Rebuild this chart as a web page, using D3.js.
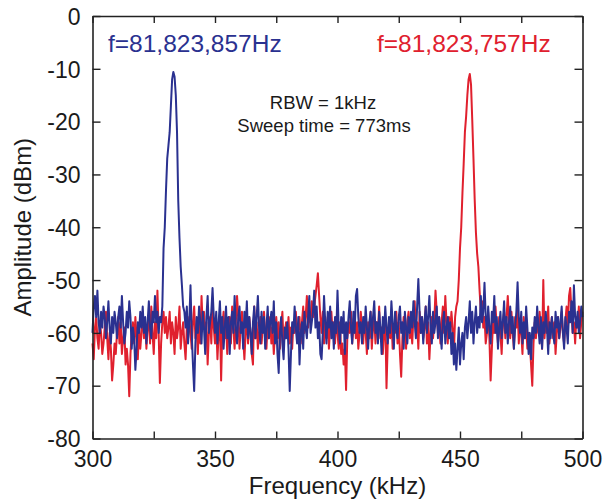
<!DOCTYPE html>
<html><head><meta charset="utf-8">
<script src="https://cdn.jsdelivr.net/npm/d3@7"></script>
<style>body{margin:0;background:#fff}svg{display:block}text{font-family:"Liberation Sans",Arial,sans-serif}</style>
</head><body>
<script>
// frequency grid: 300 .. 500 kHz, step 0.5 kHz
const freqStart = 300, freqStep = 0.5;
const blueLabel = "f=81,823,857Hz";
const redLabel = "f=81,823,757Hz";
const noteLines = ["RBW = 1kHz", "Sweep time = 773ms"];
const xTickLabels = [300, 350, 400, 450, 500];
const yTickLabels = [0, -10, -20, -30, -40, -50, -60, -70, -80];

const blueDbm = [
-60,-55,-53,-57,-52,-58,-60,-56,-59,-55,-57,-61,-58,-54,-59,-62,-57,-60,-56,-58,
-61,-57,-55,-59,-53,-58,-62,-60,-56,-59,-54,-57,-63,-59,-61,-67,-63,-58,-60,-56,
-59,-55,-60,-57,-62,-58,-54,-59,-61,-56,-58,-53,-58,-56,-60,-57,-58,-55,-44,-40,
-33,-27,-24.5,-22,-17,-12,-10.6,-11.5,-15,-22,-35,-42,-47.5,-51,-55,-56,-59,-55,-62,-58,
-51,-60,-66,-71,-62,-57,-60,-55,-58,-62,-56,-59,-64,-57,-53,-60,-58,-56,-51.5,-57,
-60,-56,-62,-58,-54,-60,-57,-63,-59,-55,-61,-57,-64,-58,-56,-60,-53,-59,-62,-57,
-55,-60,-58,-63,-56,-59,-54,-61,-57,-60,-64,-58,-55,-61,-57,-53,-59,-62,-56,-60,
-57,-63,-59,-55,-61,-58,-56,-60,-54,-62,-58,-64,-67.6,-60,-57,-62,-65,-59,-61,-58,
-63,-71,-64,-58,-60,-55,-59,-62,-57,-66,-60,-58,-63,-56,-59,-61,-57,-53,-60,-58,
-56,-52,-59,-55,-61,-58,-64,-65,-60,-53,-58,-62,-56,-59,-55,-61,-58,-63,-57,-60,
-52,-59,-62,-57,-60,-56,-64,-58,-61,-57,-54,-59,-62,-56,-60,-53,-51.7,-57,-60,-58,
-62,-57,-60,-55,-59,-63,-58,-56,-61,-57,-54,-60,-58,-62,-56,-59,-64,-57,-60,-55,
-59,-62,-57,-60,-54,-58,-63,-56,-59,-61,-57,-55,-60,-58,-63,-56,-59,-62,-57,-60,
-56,-59,-54,-58,-61,-55,-49.8,-56,-60,-57,-62,-58,-55,-60,-57,-53,-59,-62,-56,-60,
-58,-55,-61,-57,-60,-63,-58,-56,-62,-59,-57,-61,-58,-64,-60,-66,-62,-67,-63,-59,
-66,-62,-60,-65,-59,-57,-61,-58,-54,-60,-56,-62,-58,-55,-60,-57,-59,-53,-58,-56,
-50.5,-57,-60,-55,-59,-62,-56,-58,-53,-60,-57,-63,-59,-56,-61,-58,-54,-60,-57,-62,
-58,-55,-60,-57,-63,-59,-56,-50.4,-57,-60,-56,-62,-58,-61,-55,-59,-64,-60,-65,-59,
-61,-57,-60,-55,-59,-62,-57,-63,-58,-60,-56,-59,-64,-58,-61,-57,-60,-62,-56,-59,
-57,-61,-58,-55,-60,-63,-57,-59,-62,-56,-58,-54,-60,-51,-57,-59,-56,-60,-58,-55,-57
];

const redDbm = [
-62,-65,-59,-57,-61,-63,-58,-60,-64,-62,-59,-56,-61,-65,-60,-63,-69,-66,-62,-64,
-60,-57,-62,-58,-64,-61,-59,-66,-63,-66,-72,-64,-60,-58,-62,-57,-61,-65,-59,-63,
-60,-56,-61,-58,-63,-59,-57,-62,-55,-60,-64,-58,-61,-52,-60,-69.5,-62,-58,-56,-60,
-57,-61,-59,-56,-62,-58,-60,-64,-57,-61,-59,-55,-63,-60,-58,-62,-65,-59,-61,-57,
-60,-63,-58,-55,-61,-59,-64,-57,-62,-53,-59,-56,-61,-58,-66,-60,-57,-62,-54,-59,
-62,-58,-65,-60,-57,-69,-59,-56,-61,-58,-64,-60,-57,-62,-55,-59,-63,-58,-53,-57,
-63,-59,-56,-61,-65,-60,-58,-62,-57,-60,-64,-66,-55,-61,-58,-63,-60,-57,-62,-59,
-56,-60,-63,-58,-61,-57,-62,-59,-64,-60,-57,-61,-58,-63,-59,-56,-62,-60,-58,-61,
-57,-62,-59,-63,-58,-60,-56,-61,-59,-57,-62,-58,-55,-60,-57,-53,-59,-56,-58,-54,
-57,-55,-53,-51,-48.7,-53,-57,-60,-56,-62,-58,-61,-57,-63,-59,-56,-60,-58,-62,-57,
-60,-63,-58,-64,-62,-66,-63,-70.8,-61,-58,-60,-56,-62,-59,-57,-61,-58,-63,-60,-56,
-59,-62,-57,-60,-64,-58,-61,-56,-63,-59,-57,-62,-58,-60,-55,-61,-59,-64,-60,-57,
-70.5,-62,-58,-61,-57,-63,-59,-60,-56,-62,-58,-64,-68.3,-61,-57,-60,-63,-58,-56,-61,
-59,-62,-57,-54,-60,-58,-63,-56,-60,-57,-61,-59,-55,-62,-58,-65,-60,-57,-61,-58,
-52,-56,-60,-57,-62,-58,-55,-60,-53,-58,-62,-57,-60,-56,-59,-64,-57,-55,-54,-50,
-44,-40,-33.5,-28,-22,-19,-15,-12,-11,-13,-19.7,-27,-34.8,-41,-45,-47.5,-52,-56,-54,-59,
-57,-62,-60,-56,-61,-69,-63,-58,-60,-55,-59,-62,-57,-60,-64,-58,-56,-61,-57,-53,
-58,-61,-56,-60,-63,-57,-59,-55,-62,-58,-60,-64,-57,-61,-59,-63,-60,-62,-66,-70,
-62,-58,-61,-57,-60,-56,-59,-63,-50,-61,-57,-60,-55,-62,-59,-57,-61,-58,-64,-60,
-57,-61,-59,-56,-60,-62,-58,-55,-59,-53,-51.5,-56,-60,-58,-62,-57,-59,-55,-61,-58,-56
];

const W = 603, H = 502;
const margin = {left: 92.5, right: W - 582.5, top: 16, bottom: H - 438.5};
const svg = d3.select("body").append("svg").attr("width", W).attr("height", H);

const x = d3.scaleLinear().domain([300, 500]).range([margin.left, W - margin.right]);
const y = d3.scaleLinear().domain([-80, 0]).range([H - margin.bottom, margin.top]);

const toPts = arr => arr.map((v, i) => [freqStart + i * freqStep, v]);
const line = d3.line().x(d => x(d[0])).y(d => y(d[1]));

const plot = svg.append("g");
plot.append("path").datum(toPts(redDbm)).attr("d", line)
  .attr("fill", "none").attr("stroke", "#e0202e").attr("stroke-width", 2).attr("stroke-linejoin", "round");
plot.append("path").datum(toPts(blueDbm)).attr("d", line)
  .attr("fill", "none").attr("stroke", "#2a3190").attr("stroke-width", 2).attr("stroke-linejoin", "round");

const xTicks = d3.range(300, 501, 25);
const axisColor = "#222";
const gB = svg.append("g").attr("transform", `translate(0,${y(-80)})`)
  .call(d3.axisBottom(x).tickValues(xTicks).tickSizeInner(-7).tickSizeOuter(0)
    .tickFormat(d => xTickLabels.includes(d) ? d : ""));
const gT = svg.append("g").attr("transform", `translate(0,${y(0)})`)
  .call(d3.axisTop(x).tickValues(xTicks).tickSizeInner(-7).tickSizeOuter(0).tickFormat(""));
const gL = svg.append("g").attr("transform", `translate(${x(300)},0)`)
  .call(d3.axisLeft(y).tickValues(yTickLabels).tickSizeInner(-8).tickSizeOuter(0).tickFormat(d => d));
const gR = svg.append("g").attr("transform", `translate(${x(500)},0)`)
  .call(d3.axisRight(y).tickValues(yTickLabels).tickSizeInner(-8).tickSizeOuter(0).tickFormat(""));

[gB, gT, gL, gR].forEach(g => {
  g.select(".domain").attr("stroke", axisColor).attr("stroke-width", 1.6);
  g.selectAll(".tick line").attr("stroke", axisColor).attr("stroke-width", 1.4);
  g.selectAll(".tick text").attr("fill", "#1a1a1a").style("font-size", "23px")
   .style("font-family", "'Liberation Sans', Arial, sans-serif");
});
gB.selectAll(".tick text").attr("dy", "0").attr("y", 28.5);
gL.selectAll(".tick text").attr("x", -12).attr("dy", "0.36em");

svg.append("text").attr("x", (x(300) + x(500)) / 2).attr("y", 494).attr("text-anchor", "middle")
  .style("font-size", "24px").attr("fill", "#1a1a1a").text("Frequency (kHz)");
svg.append("text").attr("transform", `translate(31,${(y(0) + y(-80)) / 2}) rotate(-90)`)
  .attr("text-anchor", "middle").style("font-size", "24px").attr("fill", "#1a1a1a").text("Amplitude (dBm)");

svg.append("text").attr("x", 108).attr("y", 52).style("font-size", "24.5px").attr("fill", "#2a3190").text(blueLabel);
svg.append("text").attr("x", 377).attr("y", 52).style("font-size", "24.5px").attr("fill", "#e0202e").text(redLabel);
svg.append("text").attr("x", 323).attr("y", 109).attr("text-anchor", "middle").style("font-size", "18.5px")
  .attr("fill", "#1a1a1a").text(noteLines[0]);
svg.append("text").attr("x", 324).attr("y", 132).attr("text-anchor", "middle").style("font-size", "18.5px")
  .attr("fill", "#1a1a1a").text(noteLines[1]);
</script>
</body></html>
